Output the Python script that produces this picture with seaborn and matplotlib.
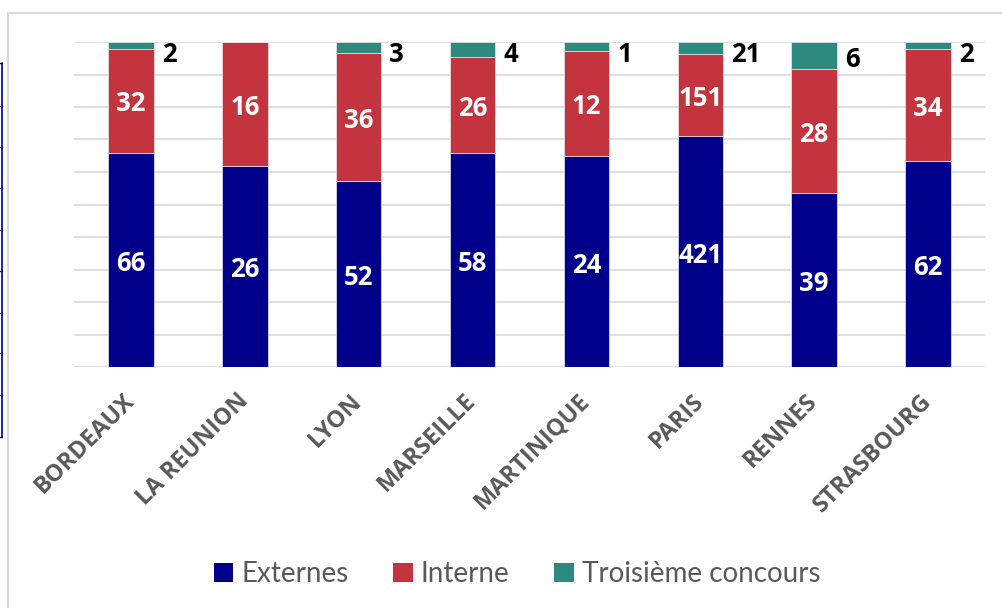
import numpy as np
import pandas as pd
import matplotlib
matplotlib.use("Agg")
import matplotlib.pyplot as plt
import seaborn as sns
from matplotlib.lines import Line2D
from matplotlib.patches import Patch

cities = ["BORDEAUX", "LA REUNION", "LYON", "MARSEILLE", "MARTINIQUE", "PARIS", "RENNES", "STRASBOURG"]
externes = [66, 26, 52, 58, 24, 421, 39, 62]
interne = [32, 16, 36, 26, 12, 151, 28, 34]
troisieme = [2, 0, 3, 4, 1, 21, 6, 2]
series_names = ["Externes", "Interne", "Troisième concours"]
colors = ["#00008B", "#C3343F", "#2D8A7F"]

sns.set_theme(style="white")
plt.rcParams["font.family"] = ["Lato", "DejaVu Sans"]
BOLD = ["Open Sans", "DejaVu Sans"]

W, H = 1003, 608
fig = plt.figure(figsize=(W / 100, H / 100), dpi=100)
ax = fig.add_axes([74 / W, 1 - 367 / H, (985 - 74) / W, (367 - 42) / H])

data = np.array([externes, interne, troisieme], dtype=float)
tot = data.sum(axis=0)
shares = data / tot
bottom = np.zeros(len(cities))
bar_w = 0.4
for k, (name, col) in enumerate(zip(series_names, colors)):
    df = pd.DataFrame({"city": cities, "share": shares[k]})
    sns.barplot(data=df, x="city", y="share", bottom=bottom.copy(), color=col,
                width=bar_w, errorbar=None, ax=ax, edgecolor="#E8E8F0",
                linewidth=0.5, saturation=1, zorder=3)
    bottom += shares[k]

ax.set_xlim(-0.5, len(cities) - 0.5)
ax.set_ylim(0, 1)
ax.set_yticks(np.linspace(0, 1, 11))
ax.set_yticklabels([])
ax.yaxis.grid(True, color="#D9D9D9", lw=1.2, zorder=0)
ax.set_axisbelow(True)
for s in ax.spines.values():
    s.set_visible(False)
ax.set_xlabel("")
ax.set_ylabel("")
ax.tick_params(axis="both", length=0)
ax.tick_params(axis="x", pad=22)
for lab in ax.get_xticklabels():
    lab.set_rotation(45)
    lab.set_ha("right")
    lab.set_va("center")
    lab.set_rotation_mode("anchor")
    lab.set_fontfamily(BOLD)
    lab.set_fontweight("bold")
    lab.set_fontsize(17)
    lab.set_color("#595959")

# data labels
for i in range(len(cities)):
    b0 = 0.0
    for k in range(2):
        s = shares[k][i]
        v = int(data[k][i])
        ax.annotate(str(v), (i, b0 + s / 2), xytext=(0, -2.5), textcoords="offset points",
                    ha="center", va="center", color="white",
                    fontsize=18.5, fontweight="bold", family=BOLD, zorder=5)
        b0 += s
    v3 = int(data[2][i])
    if v3 > 0:
        y3 = min(1 - shares[2][i] / 2, 0.975)
        ax.annotate(str(v3), (i + bar_w / 2 + 0.07, y3), xytext=(0, -3), textcoords="offset points",
                    ha="left", va="center", color="black",
                    fontsize=18.5, fontweight="bold", family=BOLD, zorder=5)

handles = [Patch(facecolor=c, edgecolor="none") for c in colors]
leg = fig.legend(handles, series_names, loc="center", bbox_to_anchor=(517 / W, 1 - 574 / H),
                 ncol=3, frameon=False, fontsize=20, handlelength=0.7, handleheight=0.7,
                 handletextpad=0.3, columnspacing=1.6)
for t in leg.get_texts():
    t.set_color("#595959")

# chart frame
fig.add_artist(Line2D([8 / W, 8 / W], [0, 1 - 13 / H], color="#D9D9D9", lw=1.5))
fig.add_artist(Line2D([8 / W, 1], [1 - 13 / H, 1 - 13 / H], color="#D9D9D9", lw=1.5))

# cut-off table edge at left
fig.add_artist(Line2D([2 / W, 2 / W], [1 - 63 / H, 1 - 437 / H], color="#00008B", lw=1.2))
for yy in [63, 106, 147, 188, 230, 271, 313, 353, 395, 437]:
    fig.add_artist(Line2D([0, 2 / W], [1 - yy / H, 1 - yy / H], color="#00008B", lw=1.0))

fig.savefig("out.png", dpi=100)
